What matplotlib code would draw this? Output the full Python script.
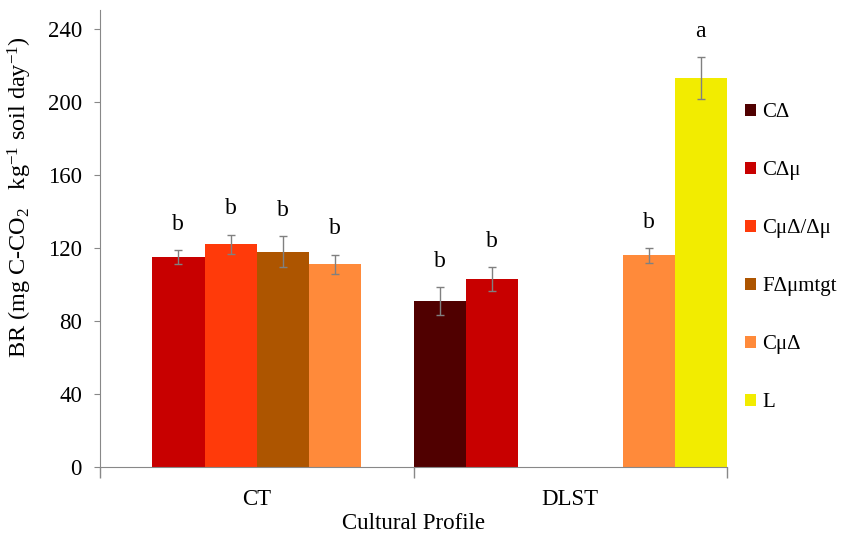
import numpy as np
import matplotlib.pyplot as plt

plt.rcParams['font.family'] = ['Liberation Serif', 'DejaVu Serif']
plt.rcParams['mathtext.fontset'] = 'custom'
plt.rcParams['mathtext.rm'] = 'Liberation Serif'
plt.rcParams['mathtext.it'] = 'Liberation Serif:italic'

# data
profiles = ['CT', 'DLST']
series = ['CΔ', 'CΔμ', 'CμΔ/Δμ', 'FΔμmtgt', 'CμΔ', 'L']
colors = ['#500000', '#C80000', '#FF3A0A', '#AD5500', '#FF8A3A', '#F2EC00']
nan = np.nan
values = [
    [nan, 91],
    [115, 103],
    [122, nan],
    [118, nan],
    [111, 116],
    [nan, 213],
]
errors = [
    [nan, 7.6],
    [4.0, 6.4],
    [5.3, nan],
    [8.4, nan],
    [5.4, 4.1],
    [nan, 11.4],
]
letters = [
    ['', 'b'],
    ['b', 'b'],
    ['b', ''],
    ['b', ''],
    ['b', 'b'],
    ['', 'a'],
]

fig = plt.figure(figsize=(8.43, 5.41), dpi=100)
ax = fig.add_axes([100/843, 74/541, 627/843, 457/541])

x = np.arange(len(profiles))
w = 1.0 / len(series)
for j in range(len(series)):
    pos = x + (j - 2.5) * w
    v = np.array(values[j], dtype=float)
    e = np.array(errors[j], dtype=float)
    ax.bar(pos, v, width=w, color=colors[j], label=series[j], edgecolor='none')
    ax.errorbar(pos, v, yerr=e, fmt='none', ecolor='#808080', elinewidth=1,
                capsize=3, capthick=1)
    for i in range(len(profiles)):
        if letters[j][i]:
            ax.annotate(letters[j][i], (pos[i], v[i] + e[i]), xytext=(0, 18.5),
                        textcoords='offset points', ha='center', va='center',
                        fontsize=17)

ax.set_xlim(-0.5, 1.5)
ax.set_ylim(0, 250.4)
ax.set_yticks(np.arange(0, 241, 40))
ax.set_xticks(x)
ax.set_xticklabels(profiles)
ax.set_xticks([-0.5, 0.5, 1.5], minor=True)
ax.tick_params(axis='x', which='major', length=0, pad=16, labelsize=16.5)
ax.tick_params(axis='x', which='minor', length=8, color='#888888', width=1)
ax.tick_params(axis='y', length=4, color='#888888', pad=9, labelsize=16.5)
for s in ['top', 'right']:
    ax.spines[s].set_visible(False)
for s in ['left', 'bottom']:
    ax.spines[s].set_color('#888888')
ax.set_xlabel('Cultural Profile', fontsize=16.5, labelpad=2)

fig.text(20/843, 1 - 197/541, r'BR (mg C-CO$_2$   kg$^{-1}$ soil day$^{-1}$)',
         rotation=90, ha='center', va='center', fontsize=17.5)

ax.legend(loc='upper left', bbox_to_anchor=(737/843, 1 - 95/541),
          bbox_transform=fig.transFigure, frameon=False, fontsize=15,
          handlelength=0.5, handleheight=0.5, handletextpad=0.3,
          labelspacing=1.87, borderaxespad=0)

fig.savefig('out.png', dpi=100)
